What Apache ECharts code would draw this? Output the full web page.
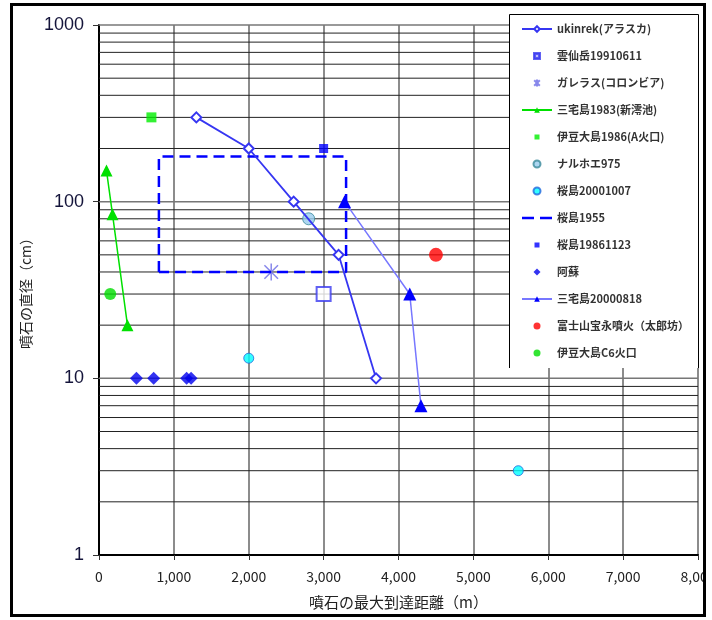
<!DOCTYPE html>
<html>
<head>
<meta charset="utf-8">
<script src="https://cdn.jsdelivr.net/npm/echarts@6/dist/echarts.min.js"></script>
<style>html,body{margin:0;padding:0;background:#fff;}#c{width:712px;height:620px;}</style>
</head>
<body>
<div id="c"></div>
<script>
// ---- data ----
const xTickLabels = ['0', '1,000', '2,000', '3,000', '4,000', '5,000', '6,000', '7,000', '8,000'];
const yTickLabels = {1: '1', 10: '10', 100: '100', 1000: '1000'};
const yMajorGrid = [10, 100, 1000];
const yMinorGrid = [2, 3, 4, 5, 6, 7, 8, 9, 20, 30, 40, 50, 60, 70, 80, 90, 200, 300, 400, 500, 600, 700, 800, 900];

const ukinrek = [[1300, 300], [2000, 200], [2600, 100], [3200, 50], [3700, 10]];
const unzen19910611 = [[3000, 30]];
const galeras = [[2300, 40]];
const miyake1983 = [[100, 150], [180, 85], [380, 20]];
const izuoshima1986 = [[700, 300]];
const naruhoe975 = [[2800, 80]];
const sakura20001007 = [[2000, 13], [5600, 3]];
const sakura1955 = [[800, 40], [800, 180], [3300, 180], [3300, 40], [800, 40]];
const sakura19861123 = [[3000, 200]];
const aso = [[500, 10], [730, 10], [1170, 10], [1230, 10]];
const miyake20000818 = [[3280, 100], [4150, 30], [4300, 7]];
const fujiHoei = [[4500, 50]];
const izuoshimaC6 = [[150, 30]];

const names = ['ukinrek(アラスカ)', '雲仙岳19910611', 'ガレラス(コロンビア)', '三宅島1983(新澪池)',
  '伊豆大島1986(A火口)', 'ナルホエ975', '桜島20001007', '桜島1955', '桜島19861123', '阿蘇',
  '三宅島20000818', '富士山宝永噴火（太郎坊）', '伊豆大島C6火口'];

const chart = echarts.init(document.getElementById('c'), null, {renderer: 'canvas'});
const FONT = 'Noto Sans CJK JP';
const X_MIN = 0, X_MAX = 8000;
const LEGEND_BOX = {left: 509, top: 14, right: 698.5, bottom: 368};

// legend icon shapes, framed in a 30x7 box so they are not stretched
const ICON_SQUARE = 'path://M0,0M30,7M12.5,1h5v5h-5z';
const ICON_EMPTY_SQUARE = 'path://M0,0M30,7M12,0.5h6v6h-6zM13.2,1.7v3.6h3.6v-3.6z';
const ICON_DIAMOND = 'path://M0,0M30,7M15,0L18.5,3.5L15,7L11.5,3.5Z';
const ICON_DASH = 'path://M0,0h12v2.5h-12zM18,0h12v2.5h-12z';
const legendIcons = {1: ICON_EMPTY_SQUARE, 4: ICON_SQUARE, 7: ICON_DASH, 8: ICON_SQUARE, 9: ICON_DIAMOND};
const legendData = names.map((n, i) => legendIcons[i] ? {name: n, icon: legendIcons[i]} : {name: n});

// horizontal grid line drawn through the y scale; stops at the legend box where it is covered
function gridLineSeries(values, color, width) {
  return {
    type: 'custom', silent: true, z: 1, clip: false,
    encode: {x: 0, y: 1},
    data: values.map(v => [X_MIN, v]),
    renderItem: (params, api) => {
      const v = api.value(1);
      const p0 = api.coord([X_MIN, v]);
      const p1 = api.coord([X_MAX, v]);
      const xEnd = p0[1] < LEGEND_BOX.bottom ? LEGEND_BOX.left : p1[0];
      return {type: 'line', shape: {x1: p0[0], y1: p0[1], x2: xEnd, y2: p0[1]},
        style: {stroke: color, lineWidth: width}};
    }
  };
}

const option = {
  animation: false,
  backgroundColor: '#fff',
  grid: {left: 99, right: 14, top: 25, bottom: 65, containLabel: false, outerBoundsMode: 'none'},
  xAxis: {
    type: 'value', min: X_MIN, max: X_MAX, interval: 1000,
    name: '噴石の最大到達距離（m）', nameLocation: 'middle', nameGap: 40,
    nameTextStyle: {fontFamily: FONT, fontSize: 15, color: '#222'},
    axisLine: {show: true, lineStyle: {color: '#000', width: 2}},
    axisTick: {show: true, length: 5, lineStyle: {color: '#333'}},
    axisLabel: {fontFamily: FONT, fontSize: 14, color: '#222', margin: 15,
      formatter: v => xTickLabels[Math.round(v / 1000)]},
    splitLine: {show: true, lineStyle: {color: '#666', width: 1.5}}
  },
  yAxis: {
    type: 'log', logBase: 10, min: 1, max: 1000,
    name: '噴石の直径（cm）', nameLocation: 'middle', nameGap: 43, nameRotate: 90,
    nameTextStyle: {fontFamily: FONT, fontSize: 14, color: '#222'},
    axisLine: {show: true, lineStyle: {color: '#000', width: 2}},
    axisTick: {show: true, length: 6, lineStyle: {color: '#333'}},
    axisLabel: {fontFamily: 'Liberation Sans', fontSize: 18, color: '#14143a', margin: 15,
      formatter: v => yTickLabels[Math.round(v)] || ''},
    splitLine: {show: false},
    minorTick: {show: false}, minorSplitLine: {show: false}
  },
  legend: {
    orient: 'vertical', left: LEGEND_BOX.left, top: LEGEND_BOX.top, padding: [9, 11, 9, 12],
    backgroundColor: '#fff', borderWidth: 0,
    itemWidth: 30, itemHeight: 7, itemGap: 15,
    textStyle: {fontFamily: FONT, fontSize: 11, lineHeight: 12, color: '#333', fontWeight: 'bold'},
    data: legendData,
    z: 20
  },
  graphic: {
    elements: [
      {type: 'polyline', z: 25, shape: {points: [[LEGEND_BOX.left + 0.5, LEGEND_BOX.bottom],
        [LEGEND_BOX.left + 0.5, LEGEND_BOX.top + 0.5], [LEGEND_BOX.right, LEGEND_BOX.top + 0.5],
        [LEGEND_BOX.right, LEGEND_BOX.bottom]]},
        style: {fill: null, stroke: '#000', lineWidth: 1}},
      {type: 'rect', z: 30, shape: {x: 704, y: 0, width: 8, height: 620}, style: {fill: '#fff'}},
      {type: 'rect', z: 31, shape: {x: 11.5, y: 4.5, width: 693, height: 611},
        style: {fill: null, stroke: '#000', lineWidth: 3}}
    ]
  },
  series: [
    gridLineSeries(yMinorGrid, '#222', 1),
    gridLineSeries(yMajorGrid, '#777', 1.5),
    {name: names[7], type: 'line', data: sakura1955, symbol: 'none',
      lineStyle: {color: '#0000ff', width: 2.5, type: [11, 6]}, itemStyle: {color: '#0000ff'}},
    {name: names[0], type: 'line', data: ukinrek, symbol: 'emptyDiamond', symbolSize: 10,
      lineStyle: {color: '#3636f2', width: 1.8},
      itemStyle: {color: '#3636f2', borderColor: '#3636f2', borderWidth: 1}},
    {name: names[1], type: 'scatter', data: unzen19910611, symbol: 'emptyRect', symbolSize: 14,
      itemStyle: {color: '#3a3af0', borderColor: '#3a3af0', borderWidth: 1.5}},
    {name: names[2], type: 'scatter', data: galeras, symbolKeepAspect: true,
      symbol: 'path://M0,-10L0,10M-8,-8L8,8M-8,8L8,-8', symbolSize: 17,
      itemStyle: {color: 'none', borderColor: '#6a6ae6', borderWidth: 1.5}},
    {name: names[3], type: 'line', data: miyake1983, symbol: 'triangle', symbolSize: 12,
      lineStyle: {color: '#00e000', width: 1.5}, itemStyle: {color: '#00e000'}},
    {name: names[4], type: 'scatter', data: izuoshima1986, symbol: 'rect', symbolSize: 10,
      itemStyle: {color: '#00ee00'}},
    {name: names[5], type: 'scatter', data: naruhoe975, symbol: 'circle', symbolSize: 12,
      itemStyle: {color: '#99ccee', borderColor: '#3a8a9a', borderWidth: 1}},
    {name: names[6], type: 'scatter', data: sakura20001007, symbol: 'circle', symbolSize: 10,
      itemStyle: {color: '#00ffff', borderColor: '#2266dd', borderWidth: 1}},
    {name: names[8], type: 'scatter', data: sakura19861123, symbol: 'rect', symbolSize: 9,
      itemStyle: {color: '#0000ff'}},
    {name: names[9], type: 'scatter', data: aso, symbol: 'diamond', symbolSize: 13,
      itemStyle: {color: '#0000ee'}},
    {name: names[10], type: 'line', data: miyake20000818, symbol: 'triangle', symbolSize: 13,
      lineStyle: {color: '#7777ff', width: 1.5}, itemStyle: {color: '#0000ff'}},
    {name: names[11], type: 'scatter', data: fujiHoei, symbol: 'circle', symbolSize: 14,
      itemStyle: {color: '#ff0000'}},
    {name: names[12], type: 'scatter', data: izuoshimaC6, symbol: 'circle', symbolSize: 12,
      itemStyle: {color: '#00dd00'}}
  ]
};
chart.setOption(option);
</script>
</body>
</html>
